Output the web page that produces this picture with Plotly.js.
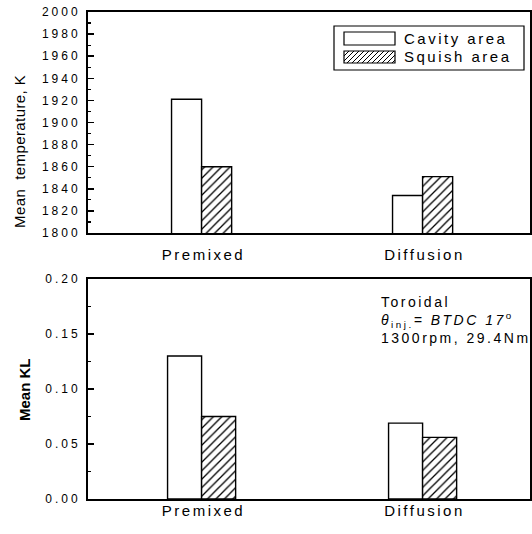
<!DOCTYPE html>
<html>
<head>
<meta charset="utf-8">
<script src="https://cdn.plot.ly/plotly-3.0.1.min.js"></script>
<style>
  html, body { margin: 0; padding: 0; background: #fff; }
  #chart { width: 532px; height: 534px; }
  /* wide, printed-style lettering */
  .xtick text, .x2tick text { letter-spacing: 2.5px; }
  .ytick text, .y2tick text { letter-spacing: 3px; }
  g.annotation[data-index="0"] text { letter-spacing: 0.4px; }
  g.annotation[data-index="2"] text,
  g.annotation[data-index="3"] text,
  g.annotation[data-index="4"] text { letter-spacing: 2.5px; }
</style>
</head>
<body>
<div id="chart"></div>
<script>
// Combustion phases compared
const categories = ['Premixed', 'Diffusion'];
const seriesNames = ['Cavity area', 'Squish area'];

// Mean temperature, K
const tempCavity = [1921, 1834];
const tempSquish = [1860, 1851];

// Mean KL
const klCavity = [0.130, 0.069];
const klSquish = [0.075, 0.056];

// Y-axis tick values
const tempTicks = [1800, 1820, 1840, 1860, 1880, 1900, 1920, 1940, 1960, 1980, 2000];
const klTicks = [0.00, 0.05, 0.10, 0.15, 0.20];

const FONT = 'Liberation Sans, Arial, Helvetica, sans-serif';
const OUTLINE = { color: '#000', width: 1.4 };
const HATCH = { shape: '/', fgcolor: '#000', bgcolor: '#fff', size: 6, solidity: 0.22, fillmode: 'replace' };

// Plot-area frame in page pixels (used for legend / label placement)
const L = 88, R = 530, T = 12, B = 499;
const px = x => (x - L) / (R - L);
const py = y => (B - y) / (B - T);

function bars(xa, ya, vals, name, w, off, hatched) {
  return {
    type: 'bar', x: categories, y: vals, name: name,
    xaxis: xa, yaxis: ya, width: w, offset: off,
    marker: hatched
      ? { color: '#fff', line: OUTLINE, pattern: HATCH }
      : { color: '#fff', line: OUTLINE },
    showlegend: false, hoverinfo: 'skip'
  };
}

// bar widths (category units) and a small rightward nudge of each pair
const wTop = 0.136, wBot = 0.154, nudge = 0.014;
const data = [
  bars('x', 'y', tempCavity, seriesNames[0], wTop, nudge - wTop, false),
  bars('x', 'y', tempSquish, seriesNames[1], wTop, nudge, true),
  bars('x2', 'y2', klCavity, seriesNames[0], wBot, nudge - wBot, false),
  bars('x2', 'y2', klSquish, seriesNames[1], wBot, nudge, true)
];

function xAxis(anchor, standoff) {
  return {
    anchor: anchor, domain: [0, 1], type: 'category', range: [-0.5, 1.5],
    showline: true, mirror: true, linecolor: '#000', linewidth: 2,
    ticks: '', showgrid: false, zeroline: false,
    ticklabelstandoff: standoff, ticklabelshift: 5,
    tickfont: { family: FONT, size: 15, color: '#000' }
  };
}
function yAxis(anchor, domain, range, tickvals, fmt, minorStep) {
  return {
    anchor: anchor, domain: domain, range: range,
    tickmode: 'array', tickvals: tickvals, tickformat: fmt,
    ticks: 'inside', ticklen: 6, tickwidth: 1.5, tickcolor: '#000',
    minor: { dtick: minorStep, ticks: 'inside', ticklen: 3, tickwidth: 1.2, tickcolor: '#000', showgrid: false },
    showline: true, mirror: true, linecolor: '#000', linewidth: 2,
    showgrid: false, zeroline: false, ticklabelstandoff: 3,
    tickfont: { family: FONT, size: 12, color: '#000' }
  };
}

// Legend drawn as framed swatches
const box = { x0: 334, x1: 524, y0: 26, y1: 70 };
const sw1 = { x0: 344, x1: 395, y0: 32, y1: 45 };
const sw2 = { x0: 344, x1: 395, y0: 51, y1: 63 };

function hatchPath(r, step) {
  let d = '';
  for (let c = r.x0 + r.y0 + step; c < r.x1 + r.y1; c += step) {
    const xa = Math.max(r.x0, c - r.y1), xb = Math.min(r.x1, c - r.y0);
    if (xb <= xa) continue;
    d += `M${px(xa)},${py(c - xa)}L${px(xb)},${py(c - xb)}`;
  }
  return d;
}
function rect(r, w) {
  return { type: 'rect', xref: 'paper', yref: 'paper',
    x0: px(r.x0), x1: px(r.x1), y0: py(r.y1), y1: py(r.y0),
    line: { color: '#000', width: w }, fillcolor: '#fff', layer: 'above' };
}

const shapes = [
  rect(box, 1.2), rect(sw1, 1.2), rect(sw2, 1.2),
  { type: 'path', xref: 'paper', yref: 'paper', path: hatchPath(sw2, 5),
    line: { color: '#000', width: 1 }, layer: 'above' }
];

const annotations = [
  { text: 'Mean  temperature, K', xref: 'paper', yref: 'paper', x: px(19), y: py(152),
    xanchor: 'center', yanchor: 'middle',
    textangle: -90, showarrow: false, font: { family: FONT, size: 15, color: '#000' } },
  { text: '<b>Mean KL</b>', xref: 'paper', yref: 'paper', x: px(24), y: py(390),
    xanchor: 'center', yanchor: 'middle',
    textangle: -90, showarrow: false,
    font: { family: 'Liberation Sans Narrow, Arial Narrow, ' + FONT, size: 15, color: '#000' } },
  { text: seriesNames[0], xref: 'paper', yref: 'paper', x: px(402), y: py(38),
    xanchor: 'left', yanchor: 'middle', align: 'left', showarrow: false,
    font: { family: FONT, size: 15, color: '#000' } },
  { text: seriesNames[1], xref: 'paper', yref: 'paper', x: px(402), y: py(57),
    xanchor: 'left', yanchor: 'middle', align: 'left', showarrow: false,
    font: { family: FONT, size: 15, color: '#000' } },
  { text: 'Toroidal<br><i>θ</i><sub>inj.</sub><i>= BTDC 17</i><sup>o</sup><br>1300rpm, 29.4Nm',
    xref: 'paper', yref: 'paper', x: px(379), y: py(292), xanchor: 'left', yanchor: 'top', align: 'left',
    showarrow: false, font: { family: FONT, size: 14, color: '#000' } }
];

const layout = {
  width: 532, height: 534,
  margin: { l: L, r: 532 - R, t: T, b: 534 - B },
  paper_bgcolor: '#fff', plot_bgcolor: '#fff',
  barmode: 'overlay', showlegend: false,
  xaxis: xAxis('y', 7),
  yaxis: yAxis('x', [py(233), 1], [1800, 2000], tempTicks, 'd', 10),
  xaxis2: xAxis('y2', -3),
  yaxis2: yAxis('x2', [0, py(279)], [0, 0.2], klTicks, '.2f', 0.025),
  shapes: shapes,
  annotations: annotations
};

Plotly.newPlot('chart', data, layout, { staticPlot: true, displayModeBar: false });
</script>
</body>
</html>
